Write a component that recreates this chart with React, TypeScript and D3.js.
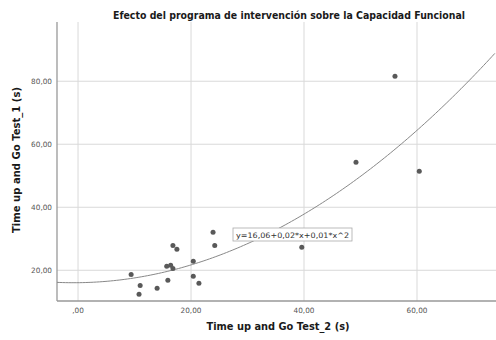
import React from "react";
import * as d3 from "d3";

const xValues = [9.4, 11.0, 10.8, 14.0, 15.9, 15.7, 16.4, 16.8, 16.8, 17.5, 20.4, 20.4, 21.4, 23.9, 24.2, 39.6, 49.2, 56.1, 60.4];
const yValues = [18.7, 15.2, 12.4, 14.3, 16.8, 21.3, 21.6, 20.6, 27.9, 26.7, 22.9, 18.1, 15.9, 32.1, 27.9, 27.3, 54.3, 81.6, 51.4];
const xTicks = [0, 20, 40, 60];
const yTicks = [20, 40, 60, 80];
const fitCoef = [16.06, 0.02, 0.0131];
const title = "Efecto del programa de intervención sobre la Capacidad Funcional";
const xTitle = "Time up and Go Test_2 (s)";
const yTitle = "Time up and Go Test_1 (s)";
const fitLabel = "y=16,06+0,02*x+0,01*x^2";

const fmt = (v: number) => (v === 0 ? ",00" : v.toFixed(2).replace(".", ","));

export default function App() {
  const W = 496, H = 340;
  const left = 57, right = 496, top = 22, bottom = 301;
  const x = d3.scaleLinear().domain([-3.72, 73.98]).range([left, right]);
  const y = d3.scaleLinear().domain([10.25, 98.8]).range([bottom, top]);
  const xs = d3.range(-3.72, 74.0, 0.5);
  const line = d3
    .line<number>()
    .x((v) => x(v))
    .y((v) => y(fitCoef[0] + fitCoef[1] * v + fitCoef[2] * v * v));
  const font = "'DejaVu Sans', sans-serif";
  return (
    <svg width={W} height={H} style={{ position: "absolute", left: 0, top: 0, background: "#fff" }} fontFamily={font}>
      <defs>
        <clipPath id="plot">
          <rect x={left} y={top} width={right - left} height={bottom - top} />
        </clipPath>
      </defs>
      <text x={289} y={18.5} textAnchor="middle" fontSize={9.8} fontWeight="bold" fill="#1a1a1a" textLength={352} lengthAdjust="spacingAndGlyphs">
        {title}
      </text>
      {xTicks.map((t) => (
        <line key={"gx" + t} x1={x(t)} x2={x(t)} y1={top} y2={bottom} stroke="#d9d9d9" strokeWidth={1} />
      ))}
      {yTicks.map((t) => (
        <line key={"gy" + t} x1={left} x2={right} y1={y(t)} y2={y(t)} stroke="#d9d9d9" strokeWidth={1} />
      ))}
      <line x1={left} x2={left} y1={top} y2={bottom} stroke="#999" strokeWidth={1.3} />
      <line x1={left} x2={right} y1={bottom} y2={bottom} stroke="#999" strokeWidth={1.3} />
      {yTicks.map((t) => (
        <text key={"ty" + t} x={52} y={y(t)} dy="0.35em" textAnchor="end" fontSize={7.3} fill="#555">
          {fmt(t)}
        </text>
      ))}
      {xTicks.map((t) => (
        <text key={"tx" + t} x={x(t)} y={313} textAnchor="middle" fontSize={7.3} fill="#555">
          {fmt(t)}
        </text>
      ))}
      <path d={line(xs) || ""} fill="none" stroke="#888" strokeWidth={1} clipPath="url(#plot)" />
      {xValues.map((v, i) => (
        <circle key={i} cx={x(v)} cy={y(yValues[i])} r={2.5} fill="#595959" />
      ))}
      <rect x={233} y={228} width={119} height={13} fill="#fff" stroke="#aaa" strokeWidth={0.8} />
      <text x={292.5} y={237.5} textAnchor="middle" fontSize={7.5} fill="#333" textLength={113} lengthAdjust="spacingAndGlyphs">
        {fitLabel}
      </text>
      <text x={278} y={330} textAnchor="middle" fontSize={9.8} fontWeight="bold" fill="#1a1a1a" textLength={143} lengthAdjust="spacingAndGlyphs">
        {xTitle}
      </text>
      <text transform={`translate(20,160) rotate(-90)`} textAnchor="middle" fontSize={9.8} fontWeight="bold" fill="#1a1a1a" textLength={146} lengthAdjust="spacingAndGlyphs">
        {yTitle}
      </text>
    </svg>
  );
}
